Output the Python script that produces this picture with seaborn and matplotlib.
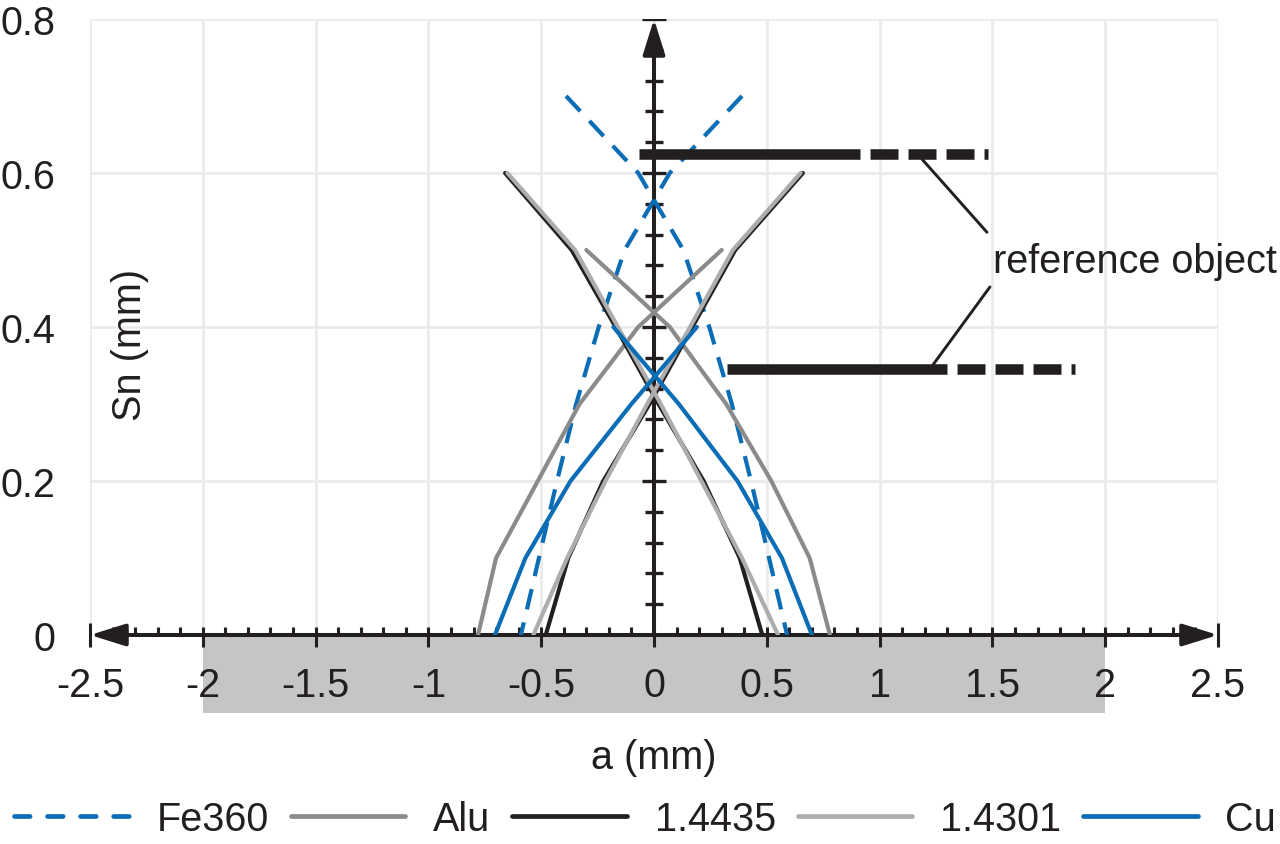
import numpy as np
import pandas as pd
import matplotlib
matplotlib.use("Agg")
import matplotlib.pyplot as plt
import seaborn as sns
from matplotlib.patches import Rectangle
from matplotlib.lines import Line2D

# ---------------- data ----------------
materials = ["Fe360", "Alu", "1.4435", "1.4301", "Cu"]

# Fe360 (dashed blue) - two mirrored branches
fe_sn = [0.70, 0.60, 0.50, 0.40, 0.30, 0.20, 0.10, 0.00]
fe_a1 = [-0.39, -0.07, 0.13, 0.245, 0.345, 0.43, 0.51, 0.59]
fe_a2 = [0.39, 0.07, -0.13, -0.245, -0.345, -0.43, -0.51, -0.59]

# Alu (medium grey)
alu_sn = [0.50, 0.40, 0.30, 0.20, 0.10, 0.00]
alu_a1 = [-0.30, 0.07, 0.32, 0.52, 0.69, 0.78]
alu_a2 = [0.30, -0.07, -0.33, -0.515, -0.70, -0.78]

# 1.4435 (black)
s35_sn = [0.60, 0.50, 0.40, 0.30, 0.20, 0.10, 0.00]
s35_a1 = [-0.66, -0.365, -0.17, 0.02, 0.22, 0.38, 0.48]
s35_a2 = [0.66, 0.36, 0.17, -0.02, -0.225, -0.38, -0.48]

# 1.4301 (light grey)
s01_sn = [0.60, 0.50, 0.40, 0.30, 0.20, 0.10, 0.00]
s01_a1 = [-0.65, -0.35, -0.16, 0.03, 0.21, 0.39, 0.55]
s01_a2 = [0.65, 0.35, 0.16, -0.03, -0.215, -0.385, -0.535]

# Cu (solid blue)
cu_sn = [0.40, 0.30, 0.20, 0.10, 0.00]
cu_a1 = [-0.18, 0.11, 0.37, 0.567, 0.70]
cu_a2 = [0.19, -0.10, -0.37, -0.57, -0.705]

# reference objects (thick bars)
ref_y = [0.625, 0.345]
ref_start = [-0.066, 0.324]
ref_solid_end = [0.913, 1.30]
ref_dash_end = [1.48, 1.866]
ref_label = "reference object"

x_ticks = [-2.5, -2, -1.5, -1, -0.5, 0, 0.5, 1, 1.5, 2, 2.5]
x_tick_labels = ["-2.5", "-2", "-1.5", "-1", "-0.5", "0", "0.5", "1", "1.5", "2", "2.5"]
y_ticks = [0, 0.2, 0.4, 0.6, 0.8]
y_tick_labels = ["0", "0.2", "0.4", "0.6", "0.8"]
band_x = [-2, 2]
band_depth = 0.101

# ---------------- style ----------------
BLUE = "#0a6db5"
MGREY = "#8b8b8b"
BLACK = "#231f20"
LGREY = "#adadad"
TXT = "#231f20"
GRID = "#ebebeb"
BAND = "#c4c5c4"
FS = 28.5
LW = 3.0

sns.set_theme(style="white")
plt.rcParams["font.family"] = ["Liberation Sans", "DejaVu Sans"]

W, H = 1280, 845
fig = plt.figure(figsize=(W / 100, H / 100), dpi=100)
ax = fig.add_axes([90 / W, (H - 636) / H, 1128 / W, 616 / H])
ax.set_xlim(-2.5, 2.5)
ax.set_ylim(0, 0.8)
for s in ax.spines.values():
    s.set_visible(False)

ax.set_xticks(x_ticks)
ax.set_xticklabels(x_tick_labels)
ax.set_yticks(y_ticks)
ax.set_yticklabels(y_tick_labels)
ax.tick_params(length=0, labelsize=FS, labelcolor=TXT)
ax.tick_params(axis="x", pad=22)
ax.tick_params(axis="y", pad=25)
ax.grid(True, color=GRID, lw=2)
ax.set_axisbelow(True)

# grey band below the x axis
ax.add_patch(Rectangle((band_x[0], -band_depth), band_x[1] - band_x[0], band_depth,
                       facecolor=BAND, edgecolor="none", clip_on=False, zorder=0.5))

# ---------------- axes with arrows ----------------
AXLW = 2.9
arrow_kw = dict(arrowstyle="-|>,head_length=0.8,head_width=0.25", color=BLACK, lw=AXLW,
                mutation_scale=27, shrinkA=0, shrinkB=0)
ax.annotate("", xy=(2.5, 0), xytext=(0, 0), arrowprops=arrow_kw, annotation_clip=False, zorder=2)
ax.annotate("", xy=(-2.5, 0), xytext=(0, 0), arrowprops=arrow_kw, annotation_clip=False, zorder=2)
ax.annotate("", xy=(0, 0.8), xytext=(0, 0), arrowprops=arrow_kw, annotation_clip=False, zorder=2)

px_x = 1 / 225.6  # data units per pixel (x)
px_y = 1 / 770.0  # data units per pixel (y)

# y-axis tick marks
y_minor = np.round(np.arange(0.04, 0.79, 0.04), 2)
is_major = np.isclose(np.mod(y_minor, 0.2), 0) | np.isclose(np.mod(y_minor, 0.2), 0.2)
ax.hlines(y_minor[~is_major], -9 * px_x, 9 * px_x, color=BLACK, lw=2.4, zorder=2)
ax.hlines(y_minor[is_major], -12 * px_x, 12 * px_x, color=BLACK, lw=2.4, zorder=2)
ax.hlines([0.8], -12 * px_x, 12 * px_x, color=BLACK, lw=2.4, zorder=2)

# x-axis tick marks
x_all = np.round(np.arange(-2.4, 2.41, 0.1), 2)
ax.vlines(x_all, 0, 8 * px_y, color=BLACK, lw=2.2, zorder=2, clip_on=False)
x_major = np.array(x_ticks[1:-1])
ax.vlines(x_major, -12 * px_y, 0, color=BLACK, lw=2.2, zorder=2, clip_on=False)
ax.vlines([-2.5, 2.5], -12 * px_y, 12 * px_y, color=BLACK, lw=2.2, zorder=2, clip_on=False)

# ---------------- data lines ----------------
series = [
    ("Fe360", BLUE, (0, (5.0, 3.2)), (0, (3.3, 3.7)), fe_sn, [fe_a1, fe_a2]),
    ("Alu", MGREY, "-", "-", alu_sn, [alu_a1, alu_a2]),
    ("1.4435", BLACK, "-", "-", s35_sn, [s35_a1, s35_a2]),
    ("1.4301", LGREY, "-", "-", s01_sn, [s01_a1, s01_a2]),
    ("Cu", BLUE, "-", "-", cu_sn, [cu_a1, cu_a2]),
]
handles = []
for name, col, ls, leg_ls, sn, branches in series:
    for br in branches:
        df = pd.DataFrame({"a": br, "sn": sn})
        sns.lineplot(data=df, x="a", y="sn", sort=False, estimator=None, ax=ax,
                     color=col, linestyle=ls, lw=LW, zorder=3)
    handles.append(Line2D([], [], color=col, linestyle=leg_ls, lw=3.4,
                          solid_capstyle="round", dash_capstyle="round"))

# ---------------- reference objects ----------------
for y, x0, x1, x2 in zip(ref_y, ref_start, ref_solid_end, ref_dash_end):
    ax.plot([x0, x1], [y, y], color=BLACK, lw=7.6, solid_capstyle="butt", zorder=4)
    ax.plot([x1, x2], [y, y], color=BLACK, lw=7.6, dash_capstyle="butt",
            linestyle=(2.65, (2.65, 0.95)), zorder=4)

ax.plot([1.188, 1.476], [0.618, 0.523], color=BLACK, lw=2.1, zorder=4)
ax.plot([1.489, 1.232], [0.452, 0.349], color=BLACK, lw=2.1, zorder=4)
ax.text(1.503, 0.486, ref_label, fontsize=FS, color=TXT, ha="left", va="center", zorder=5)

# ---------------- labels ----------------
ax.set_xlabel("a (mm)", fontsize=FS, color=TXT)
ax.xaxis.label.set_va("center")
ax.xaxis.set_label_coords(0.5, (636 - 758) / 616)
ax.set_ylabel("Sn (mm)", fontsize=FS, color=TXT)
ax.yaxis.label.set_va("center")
ax.yaxis.set_label_coords((130 - 90) / 1128, (636 - 345) / 616)

leg = fig.legend(handles, materials, loc="center left", bbox_to_anchor=(14 / W, (H - 820) / H),
                 ncol=5, frameon=False, fontsize=FS, handlelength=2.9, handletextpad=0.7,
                 columnspacing=0.55, borderpad=0, borderaxespad=0)
for t in leg.get_texts():
    t.set_color(TXT)

fig.savefig("out.png", dpi=100)
